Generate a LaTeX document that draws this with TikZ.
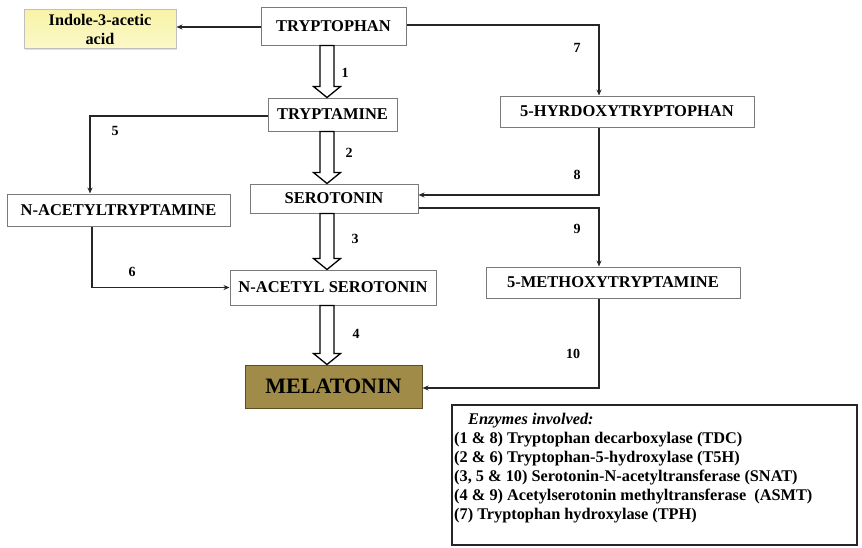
\documentclass[tikz,border=0pt]{standalone}
\usepackage{fontspec}
\setmainfont{Liberation Serif}
\usetikzlibrary{arrows.meta,calc,shadows}
\definecolor{boxline}{HTML}{7A7A7A}
\definecolor{iaafill}{HTML}{F8F3A6}
\definecolor{melfill}{HTML}{A08C48}
\definecolor{melline}{HTML}{5A4E22}
\tikzset{
  cpd/.style={draw=boxline, line width=1pt, fill=white, inner sep=0pt,
    font=\fontsize{16.5}{18}\selectfont\bfseries,
    drop shadow={shadow xshift=1.2pt, shadow yshift=-1.2pt, opacity=0.25}},
  thinarr/.style={line width=1.4pt, draw=black!85, -{Stealth[length=6pt,width=5pt]}},
  hol/.style={line width=1.3pt, draw=black, fill=white, line join=miter},
  num/.style={font=\fontsize{14}{15}\selectfont\bfseries, inner sep=0pt}
}
\newcommand\hollowarrow[2]{%
  \draw[hol] let \p1=(#1), \p2=(#2) in
    (\x1-7pt,\y1) -- (\x1-7pt,\y2+11pt) -- (\x1-13.5pt,\y2+11pt) -- (\x1,\y2)
    -- (\x1+13.5pt,\y2+11pt) -- (\x1+7pt,\y2+11pt) -- (\x1+7pt,\y1) -- cycle;}
\begin{document}
\begin{tikzpicture}[x=1pt,y=-1pt]
\useasboundingbox (0,0) rectangle (862,547);
% compounds
\node[cpd, minimum width=145, minimum height=38] (trp) at (333.5,26) {TRYPTOPHAN};
\node[cpd, draw=black!25, top color=iaafill, bottom color=iaafill!60!white,
  minimum width=152, minimum height=39, align=center,
  font=\fontsize{16.2}{19}\selectfont\bfseries] (iaa) at (100,29) {Indole-3-acetic\\acid};
\node[cpd, minimum width=129, minimum height=33] (tpa) at (332.5,114.5) {TRYPTAMINE};
\node[cpd, minimum width=254, minimum height=31] (htp) at (627,111.5) {5-HYRDOXYTRYPTOPHAN};
\node[cpd, minimum width=223, minimum height=32] (nat) at (118.5,210) {N-ACETYLTRYPTAMINE};
\node[cpd, minimum width=168, minimum height=29] (ser) at (334,198.5) {SEROTONIN};
\node[cpd, minimum width=254, minimum height=31] (mxt) at (613,282.5) {5-METHOXYTRYPTAMINE};
\node[cpd, minimum width=206, minimum height=35] (nas) at (333,287.5) {N-ACETYL SEROTONIN};
\node[cpd, draw=melline, fill=melfill, minimum width=177, minimum height=43,
  font=\fontsize{22}{24}\selectfont\bfseries] (mel) at (333.5,386.5) {MELATONIN};
% column for hollow arrows
\coordinate (col) at (327,0);
\hollowarrow{trp.south -| col}{tpa.north -| col}
\hollowarrow{tpa.south -| col}{ser.north -| col}
\hollowarrow{ser.south -| col}{nas.north -| col}
\hollowarrow{nas.south -| col}{mel.north -| col}
% thin connectors
\coordinate (xr) at (599,0);
\coordinate (xl) at (90,0);
\coordinate (xl2) at (92,0);
\draw[thinarr] ($(trp.west)+(0,1)$) -- ($(trp.west -| iaa.east)+(0,1)$);
\draw[thinarr] ($(trp.east)+(0,-1)$) -| (htp.north -| xr);
\draw[thinarr] ($(tpa.west)+(0,1.5)$) -| (nat.north -| xl);
\draw[thinarr] (nat.south -| xl2) |- (nas.west);
\draw[thinarr] (htp.south -| xr) |- ($(ser.east)+(0,-3.5)$);
\draw[thinarr] ($(ser.east)+(0,9.5)$) -| (mxt.north -| xr);
\draw[thinarr] (mxt.south -| xr) |- ($(mel.east)+(0,1.5)$);
% step numbers
\node[num] (n1) at (345,73) {1};
\node[num] (n2) at (349,153) {2};
\node[num] (n3) at (355,239) {3};
\node[num] (n4) at (356,334) {4};
\node[num] (n5) at (115,131) {5};
\node[num] (n6) at (132,272) {6};
\node[num] (n7) at (577,48) {7};
\node[num] (n8) at (577,175) {8};
\node[num] (n9) at (577,229) {9};
\node[num] (n10) at (573,354) {10};
% enzymes legend
\draw[line width=1.3pt, draw=black!85] (452,405) rectangle (857,545);
\node[anchor=north west, align=left, inner sep=0pt,
  font=\fontsize{16.3}{19}\selectfont\bfseries] (enz) at (454,413) {%
  \hspace*{14pt}\textit{Enzymes involved:}\\
  (1 \& 8) Tryptophan decarboxylase (TDC)\\
  (2 \& 6) Tryptophan-5-hydroxylase (T5H)\\
  (3, 5 \& 10) Serotonin-N-acetyltransferase (SNAT)\\
  (4 \& 9) Acetylserotonin methyltransferase\ \ (ASMT)\\
  (7) Tryptophan hydroxylase (TPH)};
\end{tikzpicture}
\end{document}
